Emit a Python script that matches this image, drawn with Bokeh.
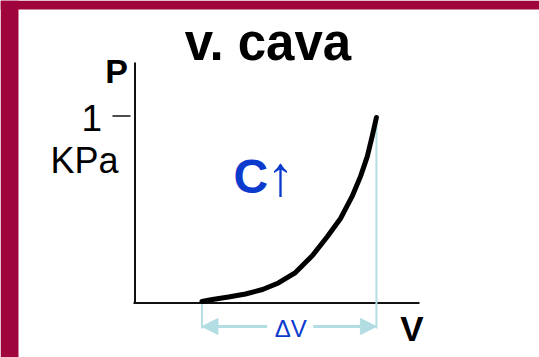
from bokeh.plotting import figure
from bokeh.models import Range1d, Arrow, NormalHead
from bokeh.core.properties import value
from bokeh.embed import file_html
from bokeh.resources import INLINE

# ---- data (P in kPa, V in arbitrary units) ----
curve_v = [0.358, 0.414, 0.500, 0.591, 0.682, 0.767, 0.858, 0.949, 1.029,
           1.099, 1.161, 1.206, 1.242, 1.268, 1.291]
curve_p = [0.008, 0.019, 0.032, 0.048, 0.072, 0.107, 0.163, 0.254, 0.356,
           0.452, 0.570, 0.677, 0.783, 0.890, 0.992]
y_ticks = [1]
y_tick_labels = ["1"]
title_text = "v. cava"
y_axis_name = "P"
y_unit = "KPa"
x_axis_name = "V"
delta_label = "ΔV"
compliance_label = "C"
up_arrow = "↑"

BLUE = "#0b3bcc"
LIGHT = "#b2dde2"
RED = "#a0043c"
FONT = value("Liberation Sans")

UNIT = 187.0  # pixels per data unit (both axes)
x0, y0 = 134.5, 302.5  # pixel position of the origin in the picture


def dx(px):
    return (px - x0) / UNIT


def dy(py):
    return (y0 - py) / UNIT


def mid_of(baseline_px, size):
    # centre of the font box above the baseline
    return dy(baseline_px - 0.3465 * size)


W, H = 539, 357
p = figure(width=W, height=H, output_backend="svg", toolbar_location=None,
           x_range=Range1d(dx(0), dx(W)), y_range=Range1d(dy(H), dy(0)),
           min_border=0)
p.axis.visible = False
p.grid.visible = False
p.outline_line_color = None
p.background_fill_color = "white"
p.border_fill_color = "white"

# slide background strips
p.quad(left=[dx(0), dx(0)], right=[dx(18), dx(W)], bottom=[dy(H), dy(9)],
       top=[dy(0), dy(0)], fill_color=RED, line_color=None)

# axes
v_end = curve_v[-1]
v_start = curve_v[0]
p.line([0, 0], [0, dy(62)], line_color="#111111", line_width=2)
p.line([dx(133), dx(419)], [0, 0], line_color="#111111", line_width=2)
for t in y_ticks:
    p.line([dx(112), dx(130)], [t, t], line_color="#111111", line_width=1.6)

# light blue guides
p.line([v_start, v_start], [0, dy(328)], line_color=LIGHT, line_width=2)
p.line([v_end, v_end], [curve_p[-1], dy(328)], line_color=LIGHT, line_width=2)

# curve
p.line(curve_v, curve_p, line_color="black", line_width=5, line_cap="round",
       line_join="round")

# delta V arrows
ya = dy(326)
mid = (v_start + v_end) / 2
for xs, xe in [(mid - 22 / UNIT, v_start), (mid + 24 / UNIT, v_end)]:
    p.add_layout(Arrow(x_start=xs, y_start=ya, x_end=xe, y_end=ya,
                       line_color=LIGHT, line_width=3,
                       end=NormalHead(size=16, fill_color=LIGHT, line_color=LIGHT)))


def label(x, baseline_px, txt, size, color="black", bold=False, align="center"):
    p.text(x=[x], y=[mid_of(baseline_px, size)], text=[txt], text_font=FONT,
           text_font_size=f"{size}px", text_font_style="bold" if bold else "normal",
           text_color=color, text_align=align, text_baseline="middle")


label(mid + 0.008, 336, delta_label, 24, BLUE)
label(dx(267.5), 60, title_text, 51, bold=True)
label(dx(127.5), 82, y_axis_name, 34, bold=True, align="right")
label(dx(91.4), 130, y_tick_labels[0], 37)
label(dx(118), 172, y_unit, 36, align="right")
label(dx(411.5), 340, x_axis_name, 35, bold=True)
label(dx(233), 193, compliance_label, 48, BLUE, bold=True, align="left")
label(dx(280), 194, up_arrow, 56, BLUE)

open("out.html", "w").write(file_html(p, INLINE))
